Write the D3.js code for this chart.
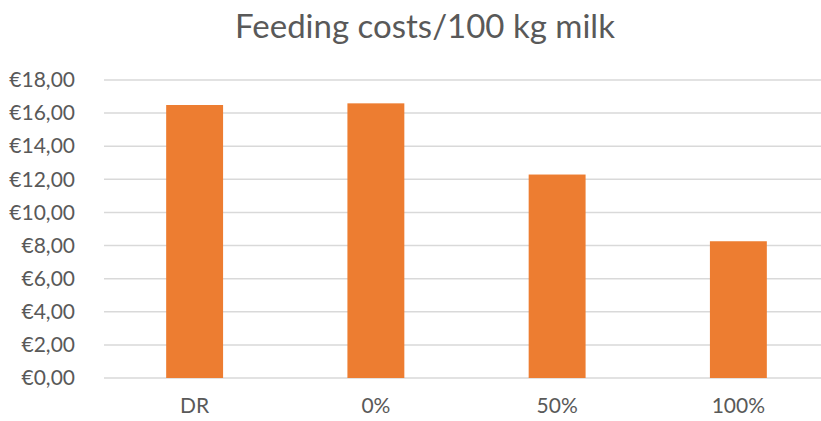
<!DOCTYPE html>
<html>
<head>
<meta charset="utf-8">
<script src="https://cdn.jsdelivr.net/npm/d3@7/dist/d3.min.js"></script>
<style>
  html, body { margin: 0; padding: 0; background: #fff; }
  svg { display: block; }
  text { font-family: Lato, "Open Sans", sans-serif; fill: #595959; }
</style>
</head>
<body>
<svg id="chart" width="821" height="421"></svg>
<script>
// Feeding costs per 100 kg milk, by ration
const categories = ["DR", "0%", "50%", "100%"];
const costs = [16.49, 16.59, 12.29, 8.26];
const yTicks = [0, 2, 4, 6, 8, 10, 12, 14, 16, 18];

const svg = d3.select("#chart");
const W = 821, H = 421;
const plot = { left: 104, right: 829, top: 80, bottom: 378 };

const x = d3.scaleBand()
  .domain(categories)
  .range([plot.left, plot.right])
  .paddingInner(0.686)
  .paddingOuter(0.343);

const y = d3.scaleLinear()
  .domain([0, 18])
  .range([plot.bottom, plot.top]);

const euro = v => "€" + d3.format(".2f")(v).replace(".", ",");

// Title
svg.append("text")
  .attr("x", 425)
  .attr("y", 38)
  .attr("text-anchor", "middle")
  .style("font-size", "33px")
  .text("Feeding costs/100 kg milk");

// Horizontal gridlines
svg.append("g")
  .selectAll("line")
  .data(yTicks)
  .join("line")
  .attr("x1", plot.left)
  .attr("x2", W)
  .attr("y1", d => y(d))
  .attr("y2", d => y(d))
  .attr("stroke", "#d9d9d9")
  .attr("stroke-width", 1.5);

// Y axis labels
const yAxis = d3.axisLeft(y).tickValues(yTicks).tickFormat(euro).tickSize(0).tickPadding(0);
const gy = svg.append("g").attr("transform", `translate(75,0)`).call(yAxis);
gy.select(".domain").remove();
gy.selectAll("text")
  .style("font-size", "21px")
  .style("font-family", "Lato, 'Open Sans', sans-serif")
  .attr("fill", "#595959");

// Bars
svg.append("g")
  .selectAll("rect")
  .data(costs)
  .join("rect")
  .attr("x", (d, i) => x(categories[i]))
  .attr("width", x.bandwidth())
  .attr("y", d => y(d))
  .attr("height", d => y(0) - y(d))
  .attr("fill", "#ED7D31");

// X axis labels
const xAxis = d3.axisBottom(x).tickSize(0).tickPadding(0);
const gx = svg.append("g").attr("transform", `translate(0,398)`).call(xAxis);
gx.select(".domain").remove();
gx.selectAll("text")
  .style("font-size", "21px")
  .style("font-family", "Lato, 'Open Sans', sans-serif")
  .attr("fill", "#595959");
</script>
</body>
</html>
